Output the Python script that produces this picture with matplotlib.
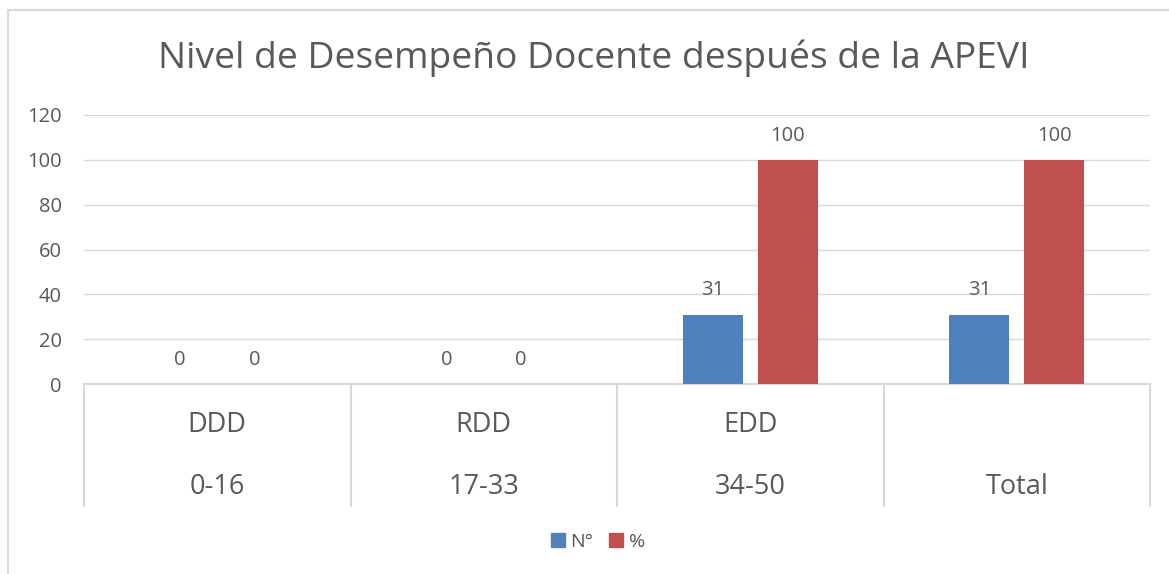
import numpy as np
import matplotlib
matplotlib.use('Agg')
from matplotlib import pyplot as plt
from matplotlib.patches import Patch
from matplotlib.lines import Line2D

plt.rcParams['font.family'] = ['Open Sans', 'DejaVu Sans']

title = 'Nivel de Desempeño Docente después de la APEVI'
levels = ['DDD', 'RDD', 'EDD', '']
ranges = ['0-16', '17-33', '34-50', 'Total']
n_vals = [0, 0, 31, 31]
pct_vals = [0, 0, 100, 100]
series_names = ['N°', '%']
yticks = [0, 20, 40, 60, 80, 100, 120]

TXT = '#595959'
GRID = '#D9D9D9'
BLUE = '#4F81BD'
RED = '#C0504D'

W, H = 1169, 574
fig = plt.figure(figsize=(W / 100, H / 100), dpi=100)
fig.patch.set_facecolor('white')

# chart border (top and left visible)
fig.add_artist(Line2D([8 / W, 1], [1 - 10 / H, 1 - 10 / H], color=GRID, lw=1.5))
fig.add_artist(Line2D([8 / W, 8 / W], [0, 1 - 10 / H], color=GRID, lw=1.5))

ax = fig.add_axes([84 / W, 1 - 384 / H, (1150 - 84) / W, (384 - 115) / H])

x = np.arange(len(ranges))
bw = 0.225
off = 0.14
b1 = ax.bar(x - off, n_vals, bw, color=BLUE, zorder=3)
b2 = ax.bar(x + off, pct_vals, bw, color=RED, zorder=3)

for bars, vals in [(b1, n_vals), (b2, pct_vals)]:
    for b, v in zip(bars, vals):
        ax.annotate(str(v), (b.get_x() + b.get_width() / 2, v),
                    xytext=(0, 17.5), textcoords='offset points',
                    ha='center', va='center', fontsize=14.5, color=TXT)

ax.set_xlim(-0.5, len(ranges) - 0.5)
ax.set_ylim(0, 120)
ax.set_yticks(yticks)
ax.set_yticklabels([str(t) for t in yticks], fontsize=14.5, color=TXT)
ax.tick_params(axis='y', length=0, pad=16)
ax.tick_params(axis='x', length=0, labelbottom=False)
ax.grid(axis='y', color=GRID, lw=1.0, zorder=0)
for s in ['top', 'right', 'left']:
    ax.spines[s].set_visible(False)
ax.spines['bottom'].set_color(GRID)
ax.spines['bottom'].set_linewidth(1.5)

# multi-level category axis
trans = ax.get_xaxis_transform()
sep_bottom = -(506 - 384) / (384 - 115)
for xs in np.arange(len(ranges) + 1) - 0.5:
    ax.plot([xs, xs], [0, sep_bottom], transform=trans, color=GRID,
            lw=1.5, clip_on=False)
row1 = -(425 - 384) / (384 - 115)
row2 = -(487 - 384) / (384 - 115)
for xi, lv, rg in zip(x, levels, ranges):
    ax.text(xi, row1, lv, transform=trans, ha='center', va='center',
            fontsize=19.5, color=TXT)
    ax.text(xi, row2, rg, transform=trans, ha='center', va='center',
            fontsize=19.5, color=TXT)

fig.text(594 / W, 1 - 58 / H, title, ha='center', va='center',
         fontsize=26.8, color=TXT)

handles = [Patch(color=BLUE), Patch(color=RED)]
fig.legend(handles, series_names, loc='center', bbox_to_anchor=(598 / W, 1 - 542 / H),
           ncol=2, frameon=False, fontsize=14, labelcolor=TXT,
           handlelength=0.7, handleheight=0.7, handletextpad=0.3,
           columnspacing=0.8)

fig.savefig('out.png', dpi=100, facecolor='white')
